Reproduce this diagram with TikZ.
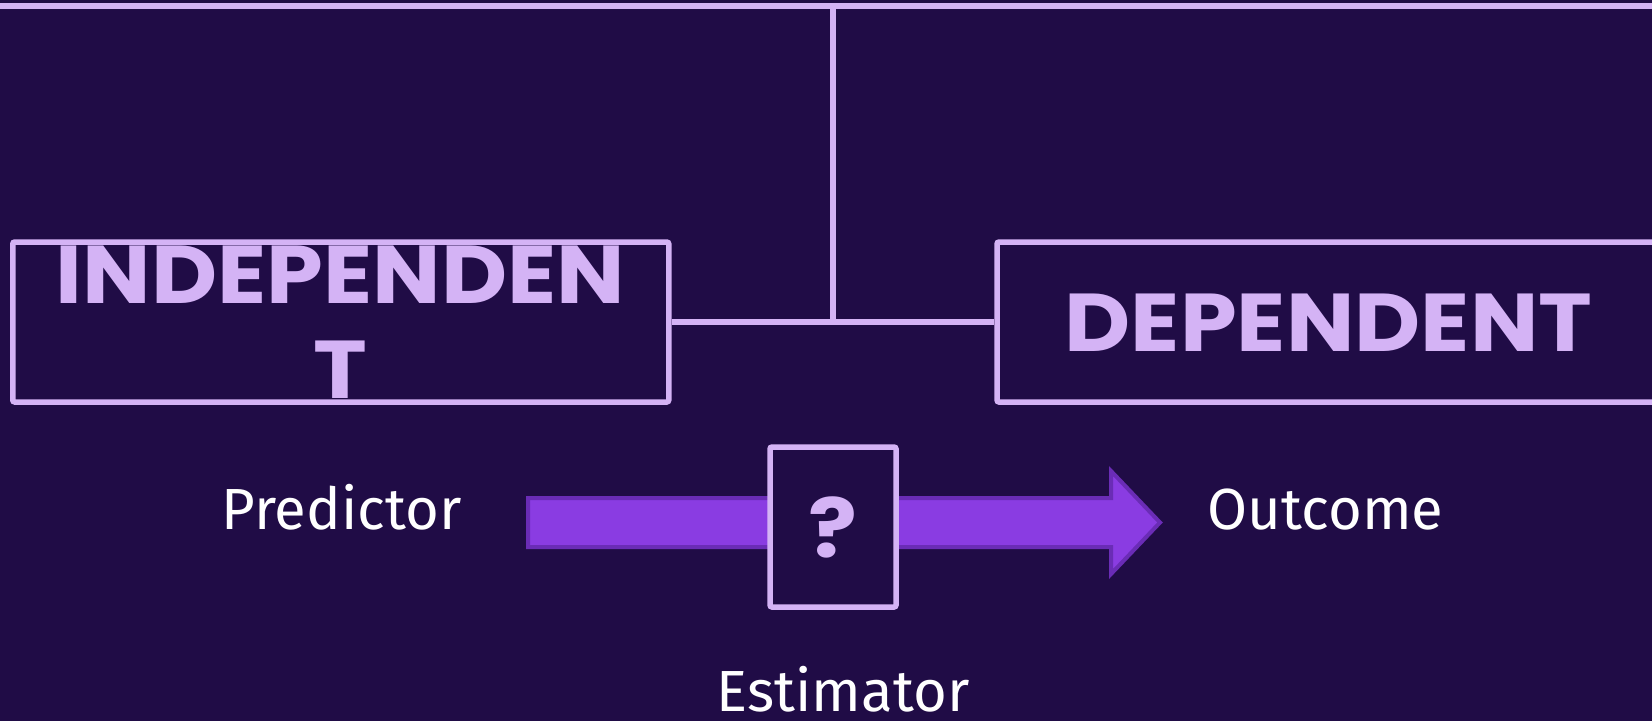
\documentclass[tikz,border=0pt]{standalone}
\usepackage{fontspec}
\setmainfont{Fira Sans}
\newfontfamily\headfont{Poppins}[FakeStretch=1.11]
\definecolor{bgc}{HTML}{200C46}
\definecolor{lav}{HTML}{D4B3F5}
\definecolor{arrfill}{HTML}{8A3CE2}
\definecolor{arrdraw}{HTML}{6A2CB6}
\tikzset{
  framebox/.style={draw=lav, line width=5.5pt, rounded corners=2pt, fill=bgc, inner sep=0pt},
  conn/.style={draw=lav, line width=5.5pt},
  headtext/.style={text=lav, font=\headfont\bfseries\fontsize{82}{96}\selectfont, inner sep=0pt, anchor=base},
  labeltext/.style={text=white, font=\fontsize{58}{66}\selectfont, inner sep=0pt, anchor=base},
}
\begin{document}
\begin{tikzpicture}[x=1pt,y=-1pt]
\fill[bgc] (0,0) rectangle (1652,721);
\useasboundingbox (0,0) rectangle (1652,721);
% top line and vertical stem
\coordinate (tl) at (-10,6);
\coordinate (tr) at (1662,6);
\coordinate (tm) at (833,6);
\coordinate (jn) at (833,322);
\draw[conn] (tl) -- (tr);
% boxes
\node[framebox, minimum width=656pt, minimum height=160pt] (lbox) at (340.75,322) {};
\node[framebox, minimum width=663pt, minimum height=160pt] (rbox) at (1328.5,322) {};
\draw[conn] (lbox.east) -- (rbox.west);
\draw[conn] (tm) -- (jn);
\node[headtext] (indep1) at (340.5,303) {INDEPENDEN};
\node[headtext] (indep2) at (340.5,398) {T};
\node[headtext] (dep) at (1328.5,351) {DEPENDENT};
% arrow
\draw[fill=arrfill, draw=arrdraw, line width=4pt, line join=miter]
  (528,498) -- (1111,498) -- (1111,471) -- (1160,522.5) -- (1111,574) -- (1111,547) -- (528,547) -- cycle;
% estimator box
\node[framebox, minimum width=126pt, minimum height=160pt] (est) at (833,527) {};
\node[headtext, anchor=center] (q) at (est.center) {?};
% labels
\node[labeltext] (pred) at (341.5,529) {Predictor};
\node[labeltext] (out) at (1325.5,529) {Outcome};
\node[labeltext] (estl) at (843,711) {Estimator};
\end{tikzpicture}
\end{document}
